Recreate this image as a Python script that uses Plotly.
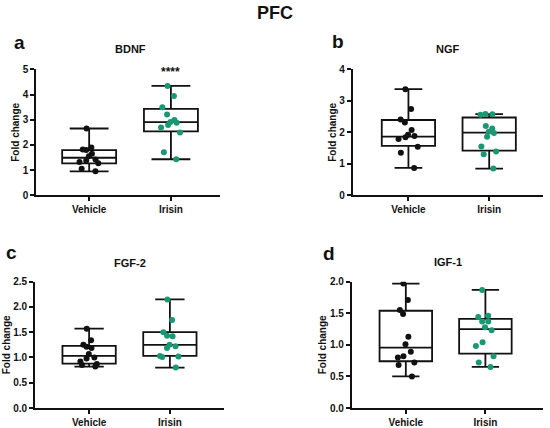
import plotly.graph_objects as go

W, H = 550, 428

groups = ["Vehicle", "Irisin"]

# ---- data (fold change) ----
bdnf_vehicle = [2.65, 1.90, 1.82, 1.80, 1.65, 1.55, 1.42, 1.38, 1.32, 1.27, 1.05, 0.95]
bdnf_irisin = [4.34, 3.94, 3.49, 3.21, 2.99, 2.91, 2.88, 2.79, 2.69, 2.49, 1.71, 1.43]
ngf_vehicle = [3.37, 2.74, 2.41, 2.31, 2.07, 1.92, 1.88, 1.84, 1.79, 1.54, 1.35, 0.87]
ngf_irisin = [2.58, 2.57, 2.56, 2.20, 2.12, 2.02, 1.98, 1.86, 1.55, 1.39, 1.30, 0.85]
fgf2_vehicle = [1.57, 1.34, 1.25, 1.21, 1.19, 1.07, 1.00, 0.98, 0.92, 0.87, 0.85, 0.82]
fgf2_irisin = [2.15, 1.74, 1.50, 1.43, 1.42, 1.25, 1.22, 1.19, 1.03, 1.02, 1.01, 0.80]
igf1_vehicle = [1.97, 1.71, 1.55, 1.49, 1.13, 1.01, 0.89, 0.82, 0.80, 0.72, 0.68, 0.50]
igf1_irisin = [1.87, 1.46, 1.44, 1.37, 1.37, 1.28, 1.23, 1.04, 0.98, 0.82, 0.72, 0.65]

# box statistics: [min, q1, median, q3, max]
bdnf_vehicle_box = [0.95, 1.27, 1.49, 1.79, 2.65]
bdnf_irisin_box = [1.43, 2.54, 2.90, 3.43, 4.34]
ngf_vehicle_box = [0.87, 1.57, 1.86, 2.39, 3.37]
ngf_irisin_box = [0.85, 1.42, 1.99, 2.47, 2.58]
fgf2_vehicle_box = [0.82, 0.88, 1.03, 1.23, 1.57]
fgf2_irisin_box = [0.80, 1.03, 1.25, 1.50, 2.15]
igf1_vehicle_box = [0.50, 0.74, 0.955, 1.54, 1.97]
igf1_irisin_box = [0.65, 0.86, 1.25, 1.41, 1.87]

panel_titles = ["BDNF", "NGF", "FGF-2", "IGF-1"]
panel_letters = ["a", "b", "c", "d"]
y_ranges = [[0, 5], [0, 4], [0, 2.5], [0, 2.0]]
y_dticks = [1, 1, 0.5, 0.5]
y_formats = ["d", "d", ".1f", ".1f"]
significance = ["****", "", "", ""]

panels = [
    (bdnf_vehicle, bdnf_irisin, bdnf_vehicle_box, bdnf_irisin_box),
    (ngf_vehicle, ngf_irisin, ngf_vehicle_box, ngf_irisin_box),
    (fgf2_vehicle, fgf2_irisin, fgf2_vehicle_box, fgf2_irisin_box),
    (igf1_vehicle, igf1_irisin, igf1_vehicle_box, igf1_irisin_box),
]

# ---- layout geometry (screen pixels) ----
px_x = [(36, 220), (352.7, 543.3), (35, 224), (351.7, 542.7)]
px_y = [(69.3, 195.3), (69.3, 195.3), (281.7, 408), (281.7, 408)]
x_ranges = [[-0.65, 1.6], [-0.69, 1.67], [-0.67, 1.67], [-0.68, 1.72]]
whisker_w = [0.72, 0.52, 0.55, 0.52]
letter_pos = [(19.5, 43), (337.5, 42), (11.3, 252.7), (329, 253)]
title_pos = [(130, 48.8), (448, 48.8), (129.5, 262.8), (447.5, 262)]


def fx(px):
    return px / W


def fy(py):
    return 1 - py / H


BLACK = "#111111"
GREEN = "#1a9873"
FONT = "Liberation Sans, Arial, sans-serif"

fig = go.Figure()
layout = dict(
    width=W, height=H,
    margin=dict(l=0, r=0, t=0, b=0, autoexpand=False),
    paper_bgcolor="white", plot_bgcolor="white",
    showlegend=False,
    boxmode="overlay",
    font=dict(family=FONT, color="#111111"),
)

annotations = []
for i, (veh, iri, vbox, ibox) in enumerate(panels):
    n = "" if i == 0 else str(i + 1)
    xa, ya = "x" + n, "y" + n
    for g, vals, stats, col in [(groups[0], veh, vbox, BLACK), (groups[1], iri, ibox, GREEN)]:
        fig.add_trace(go.Box(
            x=[g], y=[vals],
            lowerfence=[stats[0]], q1=[stats[1]], median=[stats[2]],
            q3=[stats[3]], upperfence=[stats[4]],
            boxpoints="all", jitter=0.45, pointpos=0,
            width=0.66, whiskerwidth=whisker_w[i],
            fillcolor="rgba(0,0,0,0)",
            line=dict(color="#111111", width=1.8),
            marker=dict(color=col, size=6),
            xaxis=xa, yaxis=ya, name=g,
        ))
    x0, x1 = px_x[i]
    ytop, ybot = px_y[i]
    layout["xaxis" + n] = dict(
        domain=[fx(x0), fx(x1)], anchor=ya, automargin=False,
        type="category", categoryorder="array", categoryarray=groups,
        range=x_ranges[i], showgrid=False, zeroline=False,
        showline=True, linecolor="#111111", linewidth=1.6,
        ticks="outside", ticklen=4, tickwidth=1.6, tickcolor="#111111",
        tickfont=dict(family=FONT, size=10, color="#111111", weight="bold"),
    )
    layout["yaxis" + n] = dict(
        domain=[fy(ybot), fy(ytop)], anchor=xa, automargin=False,
        range=y_ranges[i], dtick=y_dticks[i], tick0=0, tickformat=y_formats[i],
        showgrid=False, zeroline=False,
        showline=True, linecolor="#111111", linewidth=1.6,
        ticks="outside", ticklen=4, tickwidth=1.6, tickcolor="#111111",
        tickfont=dict(family=FONT, size=10, color="#111111", weight="bold"),
        title=dict(text="Fold change", standoff=1,
                   font=dict(family=FONT, size=10, color="#111111", weight="bold")),
    )
    lx, ly = letter_pos[i]
    annotations.append(dict(text=panel_letters[i], x=fx(lx), y=fy(ly), xref="paper", yref="paper",
                            showarrow=False, xanchor="center", yanchor="middle",
                            font=dict(family=FONT, size=19, color="#111111", weight="bold")))
    tx, ty = title_pos[i]
    annotations.append(dict(text=panel_titles[i], x=fx(tx), y=fy(ty), xref="paper", yref="paper",
                            showarrow=False, xanchor="center", yanchor="middle",
                            font=dict(family=FONT, size=11, color="#111111", weight="bold")))
    if significance[i]:
        annotations.append(dict(text=significance[i], x=groups[1], y=4.9, xref=xa, yref=ya,
                                showarrow=False, xanchor="center", yanchor="middle",
                                font=dict(family=FONT, size=12, color="#111111", weight="bold")))

annotations.append(dict(text="PFC", x=fx(275), y=fy(13), xref="paper", yref="paper",
                        showarrow=False, xanchor="center", yanchor="middle",
                        font=dict(family=FONT, size=18, color="#111111", weight="bold")))
layout["annotations"] = annotations
fig.update_layout(**layout)
fig.write_html(
    "out.html",
    config={"displayModeBar": False},
    post_script="document.body.style.margin='0';document.documentElement.style.overflow='hidden';",
)
